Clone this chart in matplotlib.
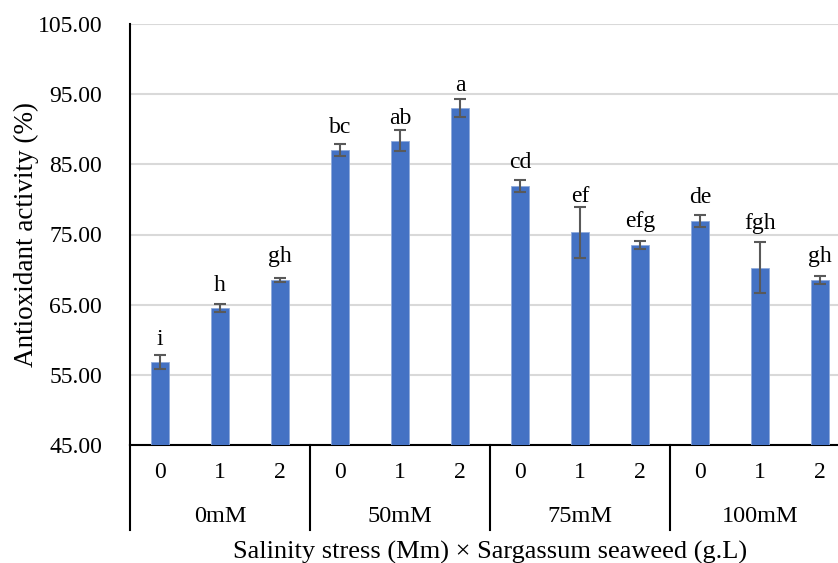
import matplotlib
matplotlib.use("Agg")
import matplotlib.pyplot as plt
import numpy as np

plt.rcParams['font.family'] = ['Liberation Serif', 'DejaVu Serif']

# Data: antioxidant activity by salinity level and seaweed dose
salinity_levels = ["0mM", "50mM", "75mM", "100mM"]
seaweed_doses = ["0", "1", "2"]
activity = [56.86, 64.50, 68.57,
            87.00, 88.33, 93.05,
            81.95, 75.29, 73.57,
            76.95, 70.29, 68.52]
errors = [1.00, 0.57, 0.30,
          0.85, 1.50, 1.26,
          0.83, 3.57, 0.57,
          0.83, 3.57, 0.55]
letters = ["i", "h", "gh",
           "bc", "ab", "a",
           "cd", "ef", "efg",
           "de", "fgh", "gh"]
# vertical gap between bar top and its letter (in % units)
letter_gap = [2.45, 2.45, 2.45,
              2.45, 2.45, 2.45,
              2.5, 4.3, 2.45,
              2.6, 5.45, 2.6]

W, H, DPI = 838, 563, 100
fig = plt.figure(figsize=(W / DPI, H / DPI), dpi=DPI)
left_px, right_px, top_px, bottom_px = 130, 838, 24, 445
ax = fig.add_axes([left_px / W, 1 - bottom_px / H,
                   (right_px - left_px) / W, (bottom_px - top_px) / H])

n_sub = len(seaweed_doses)
x = np.arange(len(activity))
slot_px = 60.0

ax.bar(x, activity, width=0.31, color="#4472C4", edgecolor="#8FAADC",
       linewidth=0.6, zorder=3)
ax.errorbar(x, activity, yerr=errors, fmt="none", ecolor="#595959",
            elinewidth=1.5, capsize=4.3, capthick=1.5, zorder=4)

for xi, v, lab, gap in zip(x, activity, letters, letter_gap):
    ax.text(xi, v + gap, lab, ha="center", va="baseline", fontsize=17,
            color="black", zorder=5)

ax.set_ylim(45, 105)
ax.set_yticks(np.arange(45, 106, 10))
ax.set_yticklabels([f"{t:.2f}" for t in np.arange(45, 106, 10)], fontsize=17)
ax.tick_params(axis="y", length=0, pad=20)
ax.set_xlim(-0.5, -0.5 + (right_px - left_px) / slot_px)
ax.set_xticks([])

ax.grid(axis="y", color="#D9D9D9", linewidth=1.5, zorder=0)
for side in ["top", "right"]:
    ax.spines[side].set_visible(False)
ax.spines["left"].set_color("black")
ax.spines["left"].set_linewidth(1.5)
ax.spines["bottom"].set_color("black")
ax.spines["bottom"].set_linewidth(1.5)

ax.set_ylabel("Antioxidant activity (%)", fontsize=19.5, labelpad=-1)

# Two-level category axis
trans = ax.get_xaxis_transform()
axes_h = bottom_px - top_px
sep_depth = -(530 - bottom_px) / axes_h
for g in range(len(salinity_levels)):
    xsep = g * n_sub - 0.5
    ax.plot([xsep, xsep], [0, sep_depth], transform=trans, color="black",
            linewidth=1.5, clip_on=False, zorder=6)
for xi in x:
    ax.annotate(seaweed_doses[xi % n_sub], xy=(xi, 0), xycoords=trans,
                xytext=(0, -(473 - bottom_px)), textcoords="offset pixels",
                ha="center", va="center", fontsize=17, annotation_clip=False)
for g, name in enumerate(salinity_levels):
    xc = g * n_sub + (n_sub - 1) / 2
    ax.annotate(name, xy=(xc, 0), xycoords=trans,
                xytext=(0, -(517 - bottom_px)), textcoords="offset pixels",
                ha="center", va="center", fontsize=17.5, annotation_clip=False)

fig.text(490 / W, 1 - 552 / H,
         "Salinity stress (Mm) × Sargassum seaweed (g.L)",
         ha="center", va="center", fontsize=19)

fig.savefig("out.png", dpi=DPI)
